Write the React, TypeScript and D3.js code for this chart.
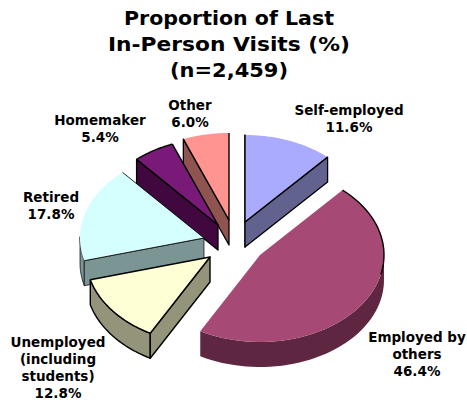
import React from 'react';
import * as d3 from 'd3';

const categories = ['Self-employed', 'Employed by others', 'Unemployed (including students)', 'Retired', 'Homemaker', 'Other'];
const values = [11.6, 46.4, 12.8, 17.8, 5.4, 6.0];
const topColors = ['#AAAAFF', '#A64A75', '#FFFFD5', '#D5FFFF', '#7A1A78', '#FF9490'];
const wallColors = ['#62628F', '#5E2640', '#94947A', '#7B9494', '#40083F', '#8F5350'];
const titleLines = ['Proportion of Last', 'In-Person Visits (%)', '(n=2,459)'];
const titleWidths = [210, 242, 118];

const RX = 124, RY = 87, DEPTH = 25;
const apexX = [245, 260, 210, 204, 218, 229];
const apexY = [222, 255, 257, 238, 225, 220];
// share of each slice's arc that carries a black rim, and weight of its radial edges
const arcStroke = [0, 0.36, 1, 0, 1, 0];
const radialStroke = [1, 0, 1, 0.6, 1, 1];
const wallStroke = [1.3, 0, 1.4, 0.7, 1.3, 1.3];
const labelLines = [
  ['Self-employed', '11.6%'],
  ['Employed by', 'others', '46.4%'],
  ['Unemployed', '(including', 'students)', '12.8%'],
  ['Retired', '17.8%'],
  ['Homemaker', '5.4%'],
  ['Other', '6.0%'],
];
const labelX = [349, 417, 58, 51, 100, 190];
const labelY = [115, 342, 347, 202, 125, 110];

type P = [number, number];
const line = d3.line<P>();

export default function App() {
  const arcs = d3.pie<number>().sort(null)(values);
  const drawOrder = [5, 4, 0, 3, 1, 2];
  const slices = arcs.map((a, i) => {
    const xs = d3.scaleLinear().domain([-1, 1]).range([apexX[i] - RX, apexX[i] + RX]);
    const ys = d3.scaleLinear().domain([-1, 1]).range([apexY[i] - RY, apexY[i] + RY]);
    const pt = (t: number, d = 0): P => [xs(Math.sin(t)), ys(-Math.cos(t)) + d];
    const ang = d3.range(0, 61).map(k => a.startAngle + (a.endAngle - a.startAngle) * k / 60);
    const apex: P = [apexX[i], apexY[i]];
    const apexB: P = [apexX[i], apexY[i] + DEPTH];
    const top = [apex, ...ang.map(t => pt(t))];
    const rim = ang.slice(0, Math.round(60 * arcStroke[i]) + 1).map(t => pt(t));
    const front = ang.filter(t => Math.cos(t) <= 0.02);
    const wall = front.length ? [...front.map(t => pt(t)), ...front.slice().reverse().map(t => pt(t, DEPTH))] : null;
    const startVisible = Math.sin(a.startAngle) < -1e-6 || a.startAngle === 0;
    const endVisible = Math.sin(a.endAngle) > 1e-6;
    const s = pt(a.startAngle), e = pt(a.endAngle);
    const sB = pt(a.startAngle, DEPTH), eB = pt(a.endAngle, DEPTH);
    return { i, top, rim, wall, apex, apexB, startVisible, endVisible, s, e, sB, eB };
  });

  return (
    <svg width={467} height={400} style={{ position: 'absolute', left: 0, top: 0, background: '#fff' }}
      fontFamily="'DejaVu Sans', Verdana, sans-serif" fontWeight="bold">
      {titleLines.map((t, k) => (
        <text key={k} textAnchor="middle" fontSize={20} fill="#000" x={229} y={24.5 + k * 26}
          textLength={titleWidths[k]} lengthAdjust="spacingAndGlyphs">{t}</text>
      ))}
      {drawOrder.map(i => {
        const d = slices[i];
        const w = radialStroke[i] * 1.4;
        return (
          <g key={categories[i]} strokeLinejoin="round">
            {d.wall && <path d={line(d.wall)! + 'Z'} fill={wallColors[i]} stroke={wallStroke[i] ? '#000' : 'none'} strokeWidth={wallStroke[i]} />}
            {d.startVisible && <path d={line([d.apex, d.s, d.sB, d.apexB])! + 'Z'} fill={wallColors[i]} stroke="#000" strokeWidth={wallStroke[i]} />}
            {d.endVisible && <path d={line([d.apex, d.e, d.eB, d.apexB])! + 'Z'} fill={wallColors[i]} stroke="#000" strokeWidth={wallStroke[i]} />}
            <path d={line(d.top)! + 'Z'} fill={topColors[i]} />
            {w > 0 && <path d={line([d.s, d.apex, d.e])!} fill="none" stroke="#000" strokeWidth={w} />}
            {arcStroke[i] > 0 && <path d={line(d.rim)!} fill="none" stroke="#000" strokeWidth={1.4} />}
          </g>
        );
      })}
      {labelLines.map((ls, i) => (
        <text key={i} textAnchor="middle" fontSize={13.5} fill="#000">
          {ls.map((t, k) => <tspan key={k} x={labelX[i]} y={labelY[i] + k * 17}>{t}</tspan>)}
        </text>
      ))}
    </svg>
  );
}
